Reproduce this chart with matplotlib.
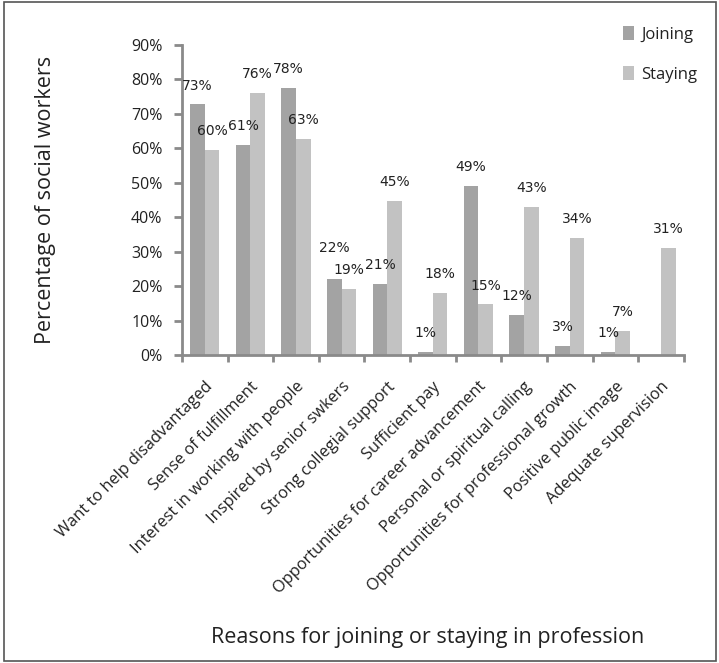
import matplotlib
matplotlib.use("Agg")
import matplotlib.pyplot as plt
from matplotlib.patches import Rectangle
from matplotlib.transforms import ScaledTranslation
import numpy as np

categories = ["Want to help disadvantaged", "Sense of fulfillment", "Interest in working with people",
              "Inspired by senior swkers", "Strong collegial support", "Sufficient pay",
              "Opportunities for career advancement", "Personal or spiritual calling",
              "Opportunities for professional growth", "Positive public image", "Adequate supervision"]
joining = [72.8, 61.0, 77.6, 22.0, 20.7, 1.0, 49.0, 11.7, 2.7, 1.0, None]
staying = [59.6, 76.0, 62.8, 19.2, 44.8, 18.0, 14.7, 43.0, 34.0, 7.0, 31.0]
yticks = [0, 10, 20, 30, 40, 50, 60, 70, 80, 90]

c_join = "#a3a3a3"
c_stay = "#c2c2c2"
spine_c = "#8a8a8a"
txt_c = "#222222"
font = "Open Sans"

fig = plt.figure(figsize=(7.19, 6.63), dpi=100)
ax = fig.add_axes([0.253, 0.4646, 0.698, 0.4675])
x = np.arange(len(categories))
w = 0.32
jv = [v if v is not None else 0 for v in joining]
b1 = ax.bar(x - w/2, jv, w, color=c_join, label="Joining")
b2 = ax.bar(x + w/2, staying, w, color=c_stay, label="Staying")

for xi, v, s in zip(x, joining, staying):
    if v is None:
        continue
    # lift the label when it would collide with the neighbouring label
    extra = 9 if abs(v - s) < 5 else 0
    ax.annotate(f"{int(v + 0.5)}%", (xi - w/2, v), xytext=(0, 13.5 + extra), textcoords="offset points",
                ha="center", va="center", fontsize=10, family="DejaVu Sans", color=txt_c)
for xi, v in zip(x, staying):
    ax.annotate(f"{int(v + 0.5)}%", (xi + w/2, v), xytext=(0, 13.5), textcoords="offset points",
                ha="center", va="center", fontsize=10, family="DejaVu Sans", color=txt_c)

ax.set_xlim(-0.5, len(categories) - 0.5)
ax.set_ylim(0, 90)
ax.set_yticks(yticks)
ax.set_yticklabels([f"{t}%" for t in yticks], fontsize=11.5, family=font, color=txt_c)
ax.set_xticks(x)
ax.set_xticklabels(categories, rotation=45, ha="right", rotation_mode="anchor",
                   fontsize=11.8, family=font, color=txt_c)
shift = ScaledTranslation(-5/100, 0, fig.dpi_scale_trans)
for lab in ax.get_xticklabels():
    lab.set_transform(lab.get_transform() + shift)
ax.set_xticks(np.arange(-0.5, len(categories)), minor=True)
ax.tick_params(axis="x", which="major", length=0, pad=17)
ax.tick_params(axis="x", which="minor", length=5, width=2, color=spine_c, direction="out")
ax.tick_params(axis="y", length=6, width=2, color=spine_c, direction="out", pad=8)
for s in ["top", "right"]:
    ax.spines[s].set_visible(False)
for s in ["left", "bottom"]:
    ax.spines[s].set_color(spine_c)
    ax.spines[s].set_linewidth(2)

ax.set_ylabel("Percentage of social workers", fontsize=15.5, family=font, color=txt_c)
ax.yaxis.set_label_coords(-0.25, 0.5)
fig.text(0.595, 1 - 637/663, "Reasons for joining or staying in profession", ha="center", va="center",
         fontsize=15.5, family=font, color=txt_c)

leg = fig.legend(handles=[b1, b2], loc="upper left", bbox_to_anchor=(0.845, 0.983), frameon=False,
                 prop={"family": font, "size": 12}, handlelength=0.7, handleheight=0.9,
                 handletextpad=0.4, labelspacing=1.4)
for t in leg.get_texts():
    t.set_color(txt_c)

fig.patches.append(Rectangle((0.006, 0.003), 0.99, 0.994, transform=fig.transFigure,
                             fill=False, edgecolor="#555555", linewidth=1.2))

fig.savefig("out.png", dpi=100)
